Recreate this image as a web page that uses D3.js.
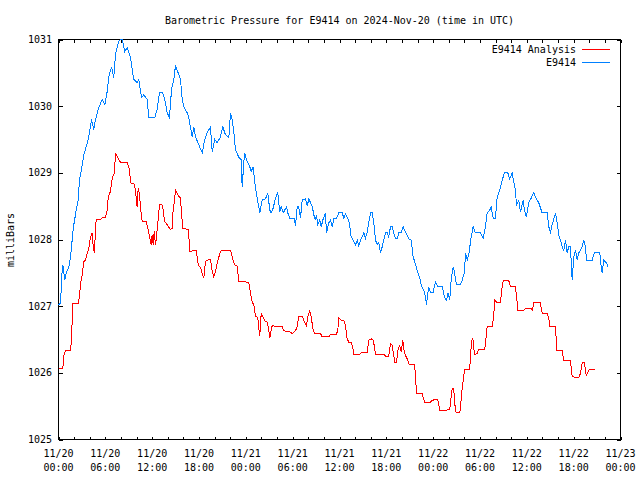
<!DOCTYPE html>
<html><head><meta charset="utf-8">
<script src="https://cdn.jsdelivr.net/npm/d3@7"></script>
<style>
body{margin:0;background:#fff}
text{font-family:"DejaVu Sans Mono",monospace;font-size:10px;fill:#000}
</style>
</head><body>
<svg id="c" width="640" height="480"></svg>
<script>
const title = "Barometric Pressure for E9414 on 2024-Nov-20 (time in UTC)";
const yLabel = "milliBars";
const seriesNames = ["E9414 Analysis", "E9414"];
const seriesColors = ["#ff0000", "#0080ff"];

// hours since 2024-11-20 00:00 UTC
const xTickHours = [0,6,12,18,24,30,36,42,48,54,60,66,72];
const xTickDates = ["11/20","11/20","11/20","11/20","11/21","11/21","11/21","11/21","11/22","11/22","11/22","11/22","11/23"];
const xTickTimes = ["00:00","06:00","12:00","18:00","00:00","06:00","12:00","18:00","00:00","06:00","12:00","18:00","00:00"];
const xMinorHours = d3.range(0, 73, 2);
const yTicks = [1025,1026,1027,1028,1029,1030,1031];

const stationHours = [0,0.26,0.47,0.55,0.81,0.99,1.32,1.54,1.67,1.83,
1.96,2.27,2.52,2.69,3.04,3.24,3.68,3.88,4.23,4.52,
4.74,5.16,5.60,5.93,6.24,6.44,6.79,7.08,7.30,7.52,
7.72,7.94,8.16,8.49,8.80,9.22,9.44,9.65,10.08,10.29,
10.63,10.93,11.36,11.57,12.34,12.64,12.94,13.36,13.62,13.93,
14.22,14.48,14.77,14.99,15.33,15.63,15.85,16.05,16.49,16.69,
16.91,17.13,17.33,17.55,17.97,18.41,18.74,19.05,19.47,19.69,
20.02,20.33,20.75,21.05,21.39,21.82,22.03,22.25,22.46,22.67,
23.10,23.40,23.53,23.83,24.17,24.51,24.69,24.94,25.11,25.37,
25.66,25.79,26.10,26.52,26.81,27.07,27.25,27.50,27.80,28.09,
28.35,28.53,28.79,29.21,29.37,29.63,30.23,30.36,30.58,30.78,
31.00,31.22,31.64,31.86,32.07,32.50,32.71,32.92,33.05,33.22,
33.47,33.65,33.91,34.20,34.33,34.63,34.85,35.06,35.27,35.62,
35.91,36.35,36.55,36.77,37.06,37.32,37.41,37.76,38.05,38.27,
38.47,38.69,38.91,39.11,39.33,39.55,39.75,39.97,40.19,40.39,
40.61,40.83,41.03,41.25,41.47,41.67,41.89,42.11,42.31,42.53,
42.75,42.95,43.17,43.39,43.59,43.90,44.16,44.45,44.87,45.18,
45.44,45.73,46.03,46.28,46.50,46.79,47.01,47.14,47.43,47.65,
48.00,48.29,48.59,49.15,49.45,49.70,49.92,50.12,50.30,50.56,
50.73,50.98,51.50,51.72,52.01,52.14,52.36,52.56,52.87,53.12,
53.42,54.06,54.40,54.70,54.92,55.25,55.43,55.69,55.98,56.20,
56.53,56.84,57.13,57.56,57.81,58.12,58.33,58.54,58.67,58.97,
59.18,59.53,59.69,59.95,60.24,60.55,60.88,61.23,61.53,61.96,
62.60,62.81,63.03,63.24,63.54,63.67,63.88,64.09,64.31,64.52,
64.73,64.95,65.16,65.37,65.59,65.81,66.01,66.23,66.45,66.65,
66.87,67.09,67.29,67.51,67.64,68.37,68.66,69.35,69.53,69.66,
69.86,70.21,70.38];
const stationValues = [1027.02,1027.05,1027.54,1027.62,1027.39,1027.50,1027.59,1027.74,1027.89,1028.10,
1028.22,1028.44,1028.59,1028.89,1029.12,1029.27,1029.45,1029.54,1029.80,1029.65,
1029.80,1029.98,1030.10,1030.02,1030.22,1030.44,1030.59,1030.43,1030.77,1030.89,
1030.97,1031.00,1031.00,1030.82,1030.88,1030.73,1030.55,1030.40,1030.35,1030.40,
1030.13,1030.17,1030.10,1029.83,1029.83,1029.95,1030.20,1030.20,1030.10,1029.90,
1029.83,1030.25,1030.40,1030.61,1030.50,1030.40,1030.10,1029.99,1029.90,1029.83,
1029.68,1029.54,1029.69,1029.54,1029.42,1029.30,1029.50,1029.60,1029.69,1029.32,
1029.50,1029.45,1029.54,1029.69,1029.57,1029.53,1029.90,1029.80,1029.62,1029.35,
1029.23,1029.20,1028.79,1029.30,1029.17,1029.09,1029.02,1029.09,1028.89,1028.67,
1028.49,1028.40,1028.59,1028.61,1028.70,1028.44,1028.40,1028.47,1028.62,1028.70,
1028.41,1028.49,1028.40,1028.49,1028.40,1028.32,1028.31,1028.20,1028.49,1028.49,
1028.32,1028.59,1028.61,1028.50,1028.61,1028.50,1028.37,1028.29,1028.37,1028.22,
1028.29,1028.19,1028.31,1028.40,1028.10,1028.25,1028.29,1028.19,1028.31,1028.32,
1028.40,1028.40,1028.32,1028.38,1028.32,1028.22,1028.07,1027.99,1027.92,1027.99,
1027.90,1027.99,1028.04,1028.10,1028.02,1028.11,1028.25,1028.40,1028.40,1028.26,
1027.99,1027.92,1027.96,1027.80,1027.89,1027.99,1028.10,1028.10,1028.04,1028.19,
1028.19,1028.10,1028.01,1028.01,1028.10,1028.11,1028.19,1028.11,1028.01,1027.99,
1027.74,1027.63,1027.50,1027.42,1027.30,1027.24,1027.14,1027.02,1027.29,1027.20,
1027.21,1027.36,1027.30,1027.30,1027.14,1027.09,1027.20,1027.09,1027.39,1027.59,
1027.51,1027.32,1027.32,1027.39,1027.51,1027.80,1027.69,1027.77,1028.04,1028.19,
1028.10,1028.10,1028.02,1028.19,1028.40,1028.44,1028.49,1028.32,1028.32,1028.64,
1028.74,1028.89,1029.00,1029.00,1028.91,1029.00,1028.86,1028.74,1028.52,1028.59,
1028.41,1028.59,1028.44,1028.34,1028.55,1028.62,1028.70,1028.61,1028.55,1028.40,
1028.40,1028.19,1028.11,1028.22,1028.34,1028.40,1028.25,1028.07,1027.99,1027.89,
1027.84,1027.99,1027.80,1027.89,1027.89,1027.39,1027.74,1027.84,1027.69,1027.80,
1027.84,1027.89,1027.99,1027.89,1027.69,1027.69,1027.80,1027.80,1027.59,1027.50,
1027.69,1027.65,1027.59];

const analysisHours = [0,0.55,0.68,0.90,1.54,1.67,1.83,2.52,2.69,2.82,
3.04,3.24,3.46,3.68,3.88,4.10,4.32,4.45,4.61,4.74,
4.83,5.38,5.60,6.02,6.24,6.37,6.66,6.88,7.17,7.30,
7.52,7.81,7.94,8.80,9.10,9.22,9.65,9.86,9.99,10.08,
10.21,10.38,10.50,10.72,11.23,11.49,11.70,11.87,12.00,12.13,
12.26,12.43,12.55,12.72,12.94,13.19,13.36,13.58,13.80,14.05,
14.35,14.57,14.64,14.86,14.99,15.21,15.41,15.63,15.76,15.92,
16.61,16.69,16.82,17.64,17.77,17.90,18.19,18.41,18.61,18.83,
19.05,19.47,19.69,19.89,20.11,20.33,20.62,20.84,22.03,22.25,
22.55,22.89,23.10,24.38,24.60,24.81,25.02,25.24,25.53,25.66,
25.79,25.97,26.17,26.43,26.74,26.94,27.07,27.25,27.38,27.67,
28.66,28.86,29.72,29.94,30.36,30.58,30.78,31.22,31.51,31.77,
31.94,32.19,32.37,32.63,32.83,33.56,33.78,34.62,34.84,35.61,
35.78,35.91,36.21,36.55,36.77,36.98,37.19,37.49,37.70,37.83,
38.60,38.82,39.55,39.75,40.06,40.31,40.48,40.61,41.67,41.89,
42.31,42.53,42.75,42.95,43.08,43.30,43.51,43.72,43.90,44.11,
44.24,44.45,44.67,44.96,45.60,45.73,45.86,46.59,46.89,47.66,
47.87,48.59,48.85,49.58,50.13,50.30,50.43,50.64,50.76,50.94,
51.41,51.58,51.71,51.92,52.01,52.65,52.78,52.87,53.00,53.12,
53.29,53.64,53.84,54.61,54.79,54.92,55.56,55.76,55.89,56.11,
56.62,56.84,56.97,57.69,57.91,58.55,58.77,58.85,59.62,59.84,
60.48,60.70,60.91,61.68,61.99,62.63,62.84,62.97,63.70,63.80,
64.52,64.73,65.59,65.81,66.65,66.87,67.09,67.38,67.60,67.81,
68.02,68.70];
const analysisValues = [1026.06,1026.06,1026.26,1026.33,1026.33,1026.51,1027.04,1027.04,1027.14,1027.34,
1027.47,1027.67,1027.69,1027.79,1027.87,1028.04,1028.10,1027.89,1027.80,1028.17,
1028.30,1028.30,1028.33,1028.33,1028.44,1028.64,1028.72,1028.92,1029.00,1029.29,
1029.25,1029.18,1029.16,1029.15,1029.05,1028.85,1028.84,1028.74,1028.57,1028.49,
1028.77,1028.67,1028.49,1028.27,1028.27,1028.14,1028.02,1027.92,1028.07,1027.92,
1028.12,1027.92,1028.04,1028.24,1028.52,1028.53,1028.49,1028.27,1028.24,1028.20,
1028.15,1028.17,1028.39,1028.59,1028.74,1028.69,1028.65,1028.62,1028.39,1028.17,
1028.15,1028.07,1027.82,1027.84,1027.74,1027.62,1027.58,1027.49,1027.42,1027.67,
1027.69,1027.70,1027.52,1027.44,1027.52,1027.64,1027.77,1027.84,1027.84,1027.74,
1027.62,1027.60,1027.37,1027.36,1027.19,1027.06,1027.02,1026.85,1026.83,1026.66,
1026.56,1026.89,1026.84,1026.78,1026.76,1026.64,1026.52,1026.64,1026.71,1026.70,
1026.69,1026.63,1026.61,1026.59,1026.63,1026.69,1026.85,1026.85,1026.76,1026.71,
1026.85,1026.93,1026.84,1026.64,1026.59,1026.59,1026.54,1026.54,1026.58,1026.58,
1026.64,1026.82,1026.79,1026.79,1026.71,1026.51,1026.46,1026.46,1026.39,1026.28,
1026.28,1026.30,1026.30,1026.49,1026.51,1026.49,1026.39,1026.28,1026.28,1026.25,
1026.25,1026.44,1026.41,1026.26,1026.16,1026.16,1026.36,1026.41,1026.31,1026.49,
1026.36,1026.26,1026.21,1026.12,1026.12,1025.99,1025.69,1025.69,1025.56,1025.56,
1025.59,1025.60,1025.44,1025.44,1025.45,1025.64,1025.76,1025.76,1025.54,1025.40,
1025.40,1025.59,1025.76,1025.94,1026.05,1026.05,1026.19,1026.41,1026.51,1026.49,
1026.27,1026.29,1026.35,1026.35,1026.54,1026.69,1026.69,1026.86,1027.09,1027.06,
1027.06,1027.29,1027.38,1027.38,1027.29,1027.29,1027.04,1026.94,1026.94,1026.97,
1026.97,1026.94,1027.06,1027.06,1026.89,1026.89,1026.79,1026.69,1026.69,1026.34,
1026.34,1026.19,1026.18,1025.94,1025.93,1025.99,1026.15,1026.15,1025.96,1026.01,
1026.05,1026.05];

const svg = d3.select("#c");
const L = 58.5, R = 620.5, T = 39.5, B = 439.5;
const x = d3.scaleLinear().domain([0, 72]).range([L, R]);
const y = d3.scaleLinear().domain([1025, 1031]).range([B, T]);

// title
svg.append("text").attr("x", (L + R) / 2).attr("y", 24).attr("text-anchor", "middle").text(title);
// y label
svg.append("text").attr("transform", "translate(13.5,240) rotate(-90)").attr("text-anchor", "middle").text(yLabel);

// axes ticks (inward)
const gB = svg.append("g").attr("transform", `translate(0,${B})`)
  .call(d3.axisBottom(x).tickValues(xMinorHours).tickSizeInner(-3).tickSizeOuter(0).tickFormat(""));
const gT = svg.append("g").attr("transform", `translate(0,${T})`)
  .call(d3.axisTop(x).tickValues(xMinorHours).tickSizeInner(-3).tickSizeOuter(0).tickFormat(""));
const gL = svg.append("g").attr("transform", `translate(${L},0)`)
  .call(d3.axisLeft(y).tickValues(yTicks).tickSizeInner(-4).tickSizeOuter(0).tickFormat(""));
const gR = svg.append("g").attr("transform", `translate(${R},0)`)
  .call(d3.axisRight(y).tickValues(yTicks).tickSizeInner(-4).tickSizeOuter(0).tickFormat(""));
[gB, gT, gL, gR].forEach(g => {
  g.select(".domain").remove();
  g.selectAll("line").attr("stroke", "#000").attr("shape-rendering", "crispEdges");
});

// y tick labels
svg.append("g").selectAll("text").data(yTicks).join("text")
  .attr("x", 52).attr("y", d => y(d) + 3.5).attr("text-anchor", "end").text(d => d);

// x tick labels
const xl = svg.append("g").selectAll("g").data(xTickHours).join("g");
xl.append("text").attr("x", d => x(d)).attr("y", 457).attr("text-anchor", "middle").text((d, i) => xTickDates[i]);
xl.append("text").attr("x", d => x(d)).attr("y", 471).attr("text-anchor", "middle").text((d, i) => xTickTimes[i]);

// frame
svg.append("rect").attr("x", L).attr("y", T).attr("width", R - L).attr("height", B - T)
  .attr("fill", "none").attr("stroke", "#000").attr("shape-rendering", "crispEdges");

// lines
const line = d3.line().x(d => x(d[0])).y(d => y(d[1]));
const series = [d3.zip(analysisHours, analysisValues), d3.zip(stationHours, stationValues)];
svg.append("g").selectAll("path").data(series).join("path")
  .attr("d", line).attr("fill", "none")
  .attr("stroke", (d, i) => seriesColors[i]).attr("stroke-width", 1)
  .attr("shape-rendering", "crispEdges");

// legend
const lg = svg.append("g").selectAll("g").data(seriesNames).join("g")
  .attr("transform", (d, i) => `translate(0,${49.5 + i * 13})`);
lg.append("text").attr("x", 576).attr("y", 3.5).attr("text-anchor", "end").text(d => d);
lg.append("line").attr("x1", 582).attr("x2", 610).attr("y1", 0).attr("y2", 0)
  .attr("stroke", (d, i) => seriesColors[i]).attr("stroke-width", 1)
  .attr("shape-rendering", "crispEdges");
</script>
</body></html>
